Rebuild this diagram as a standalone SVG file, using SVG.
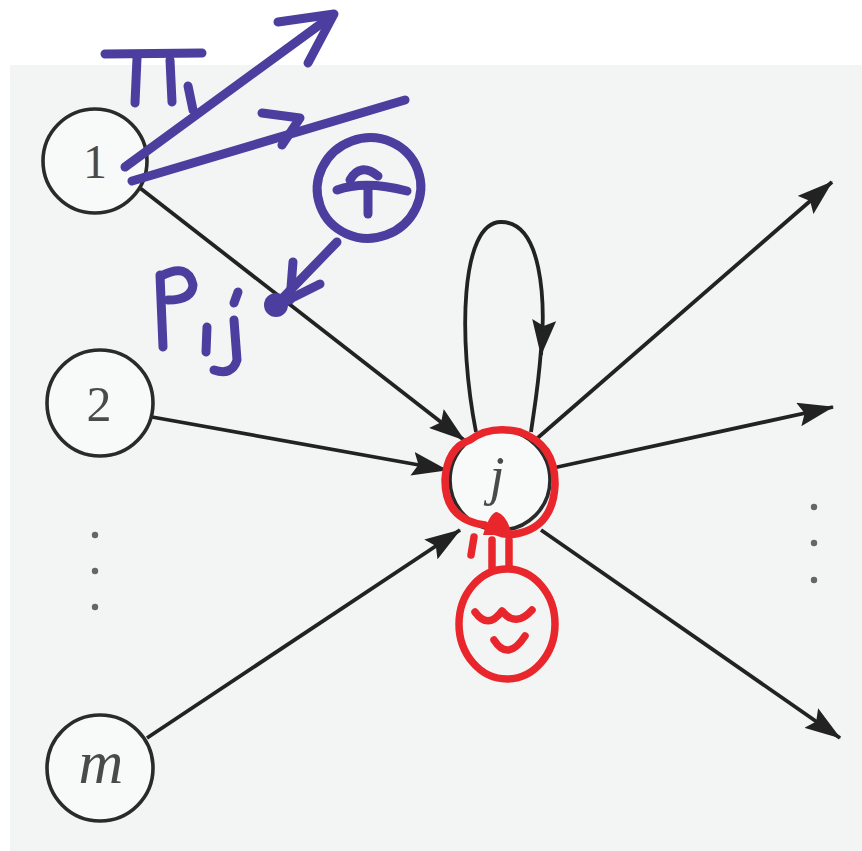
<svg xmlns="http://www.w3.org/2000/svg" width="862" height="851" viewBox="0 0 862 851">
<defs>
<style>
.node{fill:#f8f9f9;stroke:#2a2a2a;stroke-width:3.6}
.lbl{font-family:"Liberation Serif","DejaVu Serif",serif;fill:#4a4a4a;text-anchor:middle}
.edge{fill:none;stroke:#222;stroke-width:3.8}
.dot{fill:#666}
.blue{fill:none;stroke:#4b3e9f;stroke-width:9;stroke-linecap:round;stroke-linejoin:round}
.red{fill:none;stroke:#e8262b;stroke-width:7.5;stroke-linecap:round;stroke-linejoin:round}
</style>
<marker id="arr" markerUnits="userSpaceOnUse" viewBox="0 0 36 24" refX="35" refY="12" markerWidth="36" markerHeight="24" orient="auto">
<path d="M0,0 L36,12 L0,24 L6,12 z" fill="#222"/>
</marker>
</defs>
<rect x="0" y="0" width="862" height="851" fill="#ffffff"/>
<rect x="10" y="65" width="852" height="786" fill="#f3f5f5"/>

<g id="connectors">
<path class="edge" d="M140,188 L464,440" marker-end="url(#arr)"/>
<path class="edge" d="M152,417 L447,470" marker-end="url(#arr)"/>
<path class="edge" d="M147,738 L460,530" marker-end="url(#arr)"/>
<path class="edge" d="M533,442 L832,182" marker-end="url(#arr)"/>
<path class="edge" d="M553,468 L833,407" marker-end="url(#arr)"/>
<path class="edge" d="M541,530 L840,738" marker-end="url(#arr)"/>
<path class="edge" d="M476,432 C458,340 460,222 501,222 C542,222 546,300 541,355" marker-end="url(#arr)"/>
<path class="edge" d="M541,350 C538,390 534,410 531,432"/>
</g>

<g id="node-1">
<circle class="node" cx="95" cy="161" r="52"/>
<text class="lbl" x="95" y="178" font-size="48">1</text>
</g>
<g id="node-2">
<circle class="node" cx="100" cy="403" r="53"/>
<text class="lbl" x="99" y="421" font-size="50">2</text>
</g>
<g id="node-m">
<circle class="node" cx="100" cy="768" r="53"/>
<text class="lbl" x="101" y="783" font-size="62" font-style="italic">m</text>
</g>
<g id="node-j">
<circle class="node" cx="500" cy="480" r="50"/>
<text class="lbl" x="497" y="494" font-size="54" font-style="italic">j</text>
</g>

<g id="dots-left">
<circle class="dot" cx="95" cy="535" r="3.2"/>
<circle class="dot" cx="95" cy="571" r="3.2"/>
<circle class="dot" cx="95" cy="607" r="3.2"/>
</g>
<g id="dots-right">
<circle class="dot" cx="814" cy="507" r="3.2"/>
<circle class="dot" cx="814" cy="543" r="3.2"/>
<circle class="dot" cx="814" cy="580" r="3.2"/>
</g>

<g id="blue-annotations">
<path class="blue" d="M105,54 L202,53"/>
<path class="blue" d="M137,58 L135,103"/>
<path class="blue" d="M170,60 L172,102"/>
<path class="blue" d="M188,86 L193,110"/>
<path class="blue" d="M125,167 L333,15"/>
<path class="blue" d="M278,22 L334,14 L308,63"/>
<path class="blue" d="M132,181 L405,100"/>
<path class="blue" d="M262,113 L300,118 L282,145"/>
<ellipse class="blue" cx="369" cy="188" rx="52" ry="50" transform="rotate(-20 369 188)"/>
<path class="blue" d="M337,190 Q365,180 407,191"/>
<path class="blue" d="M350,180 Q360,162 378,176"/>
<path class="blue" d="M368,190 L368,214"/>
<path class="blue" d="M337,242 L275,306" stroke-width="13"/>
<path class="blue" d="M293,262 L290,300"/>
<path class="blue" d="M320,284 L276,306"/>
<circle cx="276" cy="305" r="12" fill="#4b3e9f"/>
<path class="blue" d="M160,275 L163,347" stroke-width="11"/>
<path class="blue" d="M161,276 Q188,262 193,285 Q192,300 168,300" stroke-width="10"/>
<path class="blue" d="M238,292 L234,303"/>
<path class="blue" d="M207,327 L206,352"/>
<path class="blue" d="M234,320 L237,360 Q232,376 214,370"/>
</g>

<g id="red-annotations">
<path class="red" d="M470,440 Q490,425 520,432 Q556,445 555,485 Q553,525 520,533 Q500,538 485,525 Q445,520 445,480 Q447,448 470,440"/>
<path class="red" d="M474,537 L471,555"/>
<path d="M483,535 Q490,512 497,512 Q507,515 512,535 Z" fill="#e8262b"/>
<path class="red" d="M492,540 L492,568"/>
<path class="red" d="M509,540 L509,568"/>
<ellipse class="red" cx="507" cy="624" rx="48" ry="55"/>
<path class="red" d="M475,612 Q488,630 502,611 Q516,628 532,610"/>
<path class="red" d="M494,640 Q508,662 525,636"/>
</g>
</svg>
